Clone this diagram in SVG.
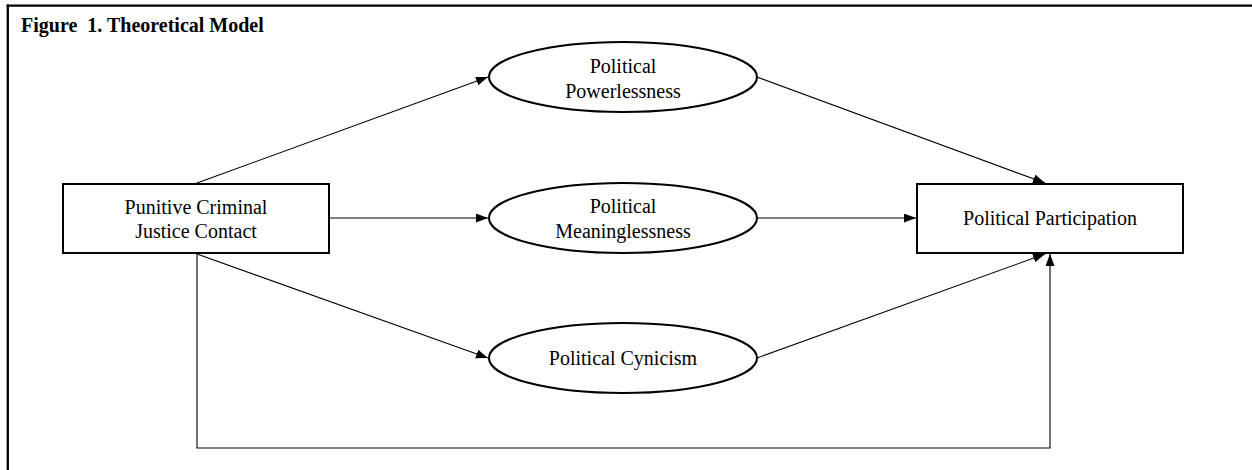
<svg xmlns="http://www.w3.org/2000/svg" width="1252" height="470" viewBox="0 0 1252 470">
  <defs>
    <marker id="arrow" markerUnits="userSpaceOnUse" markerWidth="12" markerHeight="10" refX="12" refY="4.5" orient="auto">
      <path d="M0,0 L12,4.5 L0,9 z" fill="#000"/>
    </marker>
    <style>
      .frame { stroke: #000; stroke-width: 2.3; fill: none; }
      .box { fill: #fff; stroke: #000; stroke-width: 2; }
      .lbl { font-family: "Liberation Serif", "Times New Roman", serif; font-size: 20px; fill: #000; text-anchor: middle; }
      .title { font-family: "Liberation Serif", "Times New Roman", serif; font-size: 20px; font-weight: bold; fill: #000; }
      .conn { stroke: #000; stroke-width: 1.1; fill: none; marker-end: url(#arrow); }
    </style>
  </defs>
  <rect width="1252" height="470" fill="#fff"/>
  <g id="frame">
    <line class="frame" x1="7.8" y1="4.5" x2="7.8" y2="470"/>
    <line class="frame" x1="6.6" y1="5.7" x2="1252" y2="5.7"/>
    <text class="title" x="21" y="31.5" xml:space="preserve">Figure  1. Theoretical Model</text>
  </g>
  <g id="connectors">
    <line class="conn" x1="197" y1="183" x2="488" y2="77"/>
    <line class="conn" x1="330" y1="218" x2="488" y2="218"/>
    <line class="conn" x1="197" y1="254" x2="488" y2="358"/>
    <line class="conn" x1="757" y1="77" x2="1045" y2="183"/>
    <line class="conn" x1="758" y1="218" x2="916" y2="218"/>
    <line class="conn" x1="757" y1="358" x2="1045" y2="254"/>
    <polyline class="conn" points="197,254 197,448 1050,448 1050,254"/>
  </g>
  <g id="node-contact">
    <rect class="box" x="63" y="184" width="266" height="69"/>
    <text class="lbl" x="196" y="214">Punitive Criminal</text>
    <text class="lbl" x="196" y="238">Justice Contact</text>
  </g>
  <g id="node-powerlessness">
    <ellipse class="box" cx="623" cy="77" rx="134" ry="35"/>
    <text class="lbl" x="623" y="73">Political</text>
    <text class="lbl" x="623" y="98">Powerlessness</text>
  </g>
  <g id="node-meaninglessness">
    <ellipse class="box" cx="623" cy="218" rx="134" ry="35"/>
    <text class="lbl" x="623" y="213">Political</text>
    <text class="lbl" x="623" y="238">Meaninglessness</text>
  </g>
  <g id="node-cynicism">
    <ellipse class="box" cx="623" cy="358" rx="134" ry="35"/>
    <text class="lbl" x="623" y="365">Political Cynicism</text>
  </g>
  <g id="node-participation">
    <rect class="box" x="917" y="184" width="266" height="69"/>
    <text class="lbl" x="1050" y="225">Political Participation</text>
  </g>
</svg>
